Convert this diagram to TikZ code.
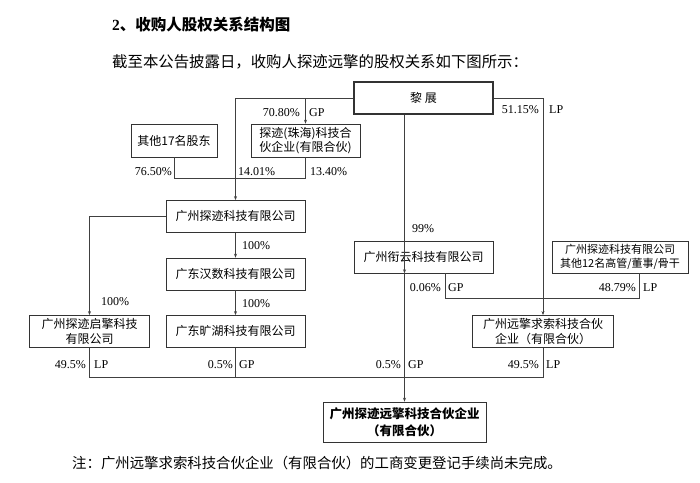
\documentclass[tikz,border=0pt]{standalone}
\usepackage{fontspec}
\setmainfont{Liberation Serif}
\newfontfamily\cjk{Noto Sans CJK SC}
\usetikzlibrary{arrows.meta, positioning, calc}

\begin{document}
\begin{tikzpicture}[x=1pt, y=-1pt,
    box/.style={draw=black!80, line width=0.6pt, minimum width=139pt, minimum height=32pt, align=center, inner sep=1pt, font=\cjk\fontsize{12}{14.5}\selectfont},
    pct/.style={inner sep=0pt, font=\fontsize{12}{12}\selectfont},
    link/.style={draw=black!75, line width=0.6pt},
    arr/.style={link, -{Stealth[length=4pt, width=3pt]}}]
    \useasboundingbox (0,0) rectangle (700,482);

    \node[anchor=west, inner sep=0pt, font=\fontsize{15.5}{15.5}\selectfont] (title) at (112,25) {\textbf{2}{\cjk\bfseries 、收购人股权关系结构图}};
    \node[anchor=west, inner sep=0pt, font=\cjk\fontsize{15.4}{15.4}\selectfont] (intro) at (112,62) {截至本公告披露日，收购人探迹远擎的股权关系如下图所示：};

    % boxes
    \node[box, line width=1.4pt] (lizhan) at (423.5,98) {黎\ 展};
    \node[box, minimum width=86pt, minimum height=33pt] (other17) at (174,140.5) {其他17名股东};
    \node[box, minimum width=109pt, minimum height=33pt] (zhuhai) at (305.5,140.5) {探迹(珠海)科技合\\伙企业(有限合伙)};
    \node[box] (tanji) at (235.5,216.4) {广州探迹科技有限公司};
    \node[box] (hanshu) at (235.5,274) {广东汉数科技有限公司};
    \node[box] (kuanghu) at (235.5,331.4) {广东旷湖科技有限公司};
    \node[box, minimum width=120pt] (qiqing) at (89.5,331.4) {广州探迹启擎科技\\有限公司};
    \node[box] (xianyun) at (423.5,257) {广州衔云科技有限公司};
    \node[box, minimum width=136pt, font=\cjk\fontsize{11}{14}\selectfont] (staff) at (620,257) {广州探迹科技有限公司\\其他12名高管/董事/骨干};
    \node[box, minimum width=141pt] (qiusuo) at (543,331.4) {广州远擎求索科技合伙\\企业（有限合伙）};
    \node[box, minimum width=163pt, minimum height=40pt, font=\cjk\bfseries\fontsize{12.5}{17}\selectfont] (target) at (404.5,422) {广州探迹远擎科技合伙企业\\（有限合伙）};

    % connectors
    \draw[arr] (lizhan.west) -| (tanji.north);
    \draw[arr] (lizhan.west -| zhuhai.north) -- (zhuhai.north);
    \draw[arr] (lizhan.east) -| (qiusuo.north);
    \draw[arr] (lizhan.south -| target.north) -- (xianyun.south -| target.north |- xianyun.north);
    \draw[arr] (xianyun.south -| target.north) -- (target.north);
    \draw[link] (other17.south) |- ($(zhuhai.south)+(0,21)$) -- (zhuhai.south);
    \draw[arr] (tanji.west) -| (qiqing.north);
    \draw[arr] (tanji.south) -- (hanshu.north);
    \draw[arr] (hanshu.south) -- (kuanghu.north);
    \draw[link] ($(xianyun.south)+(21.5,0)$) |- ($(staff.south)+(19,24.7)$) -- ($(staff.south)+(19,0)$);
    \coordinate (bar) at (0,377);
    \draw[link] (qiqing.south) |- (qiusuo.south |- bar) -- (qiusuo.south);
    \draw[link] (kuanghu.south) -- (kuanghu.south |- bar);

    % shares
    \node[pct, anchor=east] (p7080) at (300,113) {70.80\%};
    \node[pct, anchor=west] (gp1) at (309,113) {GP};
    \node[pct, anchor=east] (p5115) at (539,110) {51.15\%};
    \node[pct, anchor=west] (lp1) at (549,110) {LP};
    \node[pct, anchor=west] (p99) at (412,229) {99\%};
    \node[pct, anchor=east] (p7650) at (172,172) {76.50\%};
    \node[pct, anchor=west] (p1401) at (238,172) {14.01\%};
    \node[pct, anchor=west] (p1340) at (310,172) {13.40\%};
    \node[pct, anchor=west] (p100a) at (242,246) {100\%};
    \node[pct, anchor=west] (p100b) at (242,304) {100\%};
    \node[pct, anchor=west] (p100c) at (101,302) {100\%};
    \node[pct, anchor=east] (p006) at (441,288) {0.06\%};
    \node[pct, anchor=west] (gp2) at (448,288) {GP};
    \node[pct, anchor=east] (p4879) at (636,288) {48.79\%};
    \node[pct, anchor=west] (lp2) at (643,288) {LP};
    \node[pct, anchor=east] (p495a) at (86,365) {49.5\%};
    \node[pct, anchor=west] (lp3) at (94,365) {LP};
    \node[pct, anchor=east] (p05a) at (233,365) {0.5\%};
    \node[pct, anchor=west] (gp3) at (239,365) {GP};
    \node[pct, anchor=east] (p05b) at (401,365) {0.5\%};
    \node[pct, anchor=west] (gp4) at (408,365) {GP};
    \node[pct, anchor=east] (p495b) at (539,365) {49.5\%};
    \node[pct, anchor=west] (lp4) at (546,365) {LP};

    \node[anchor=west, inner sep=0pt, font=\cjk\fontsize{14.4}{14.4}\selectfont] (note) at (72,463) {注：广州远擎求索科技合伙企业（有限合伙）的工商变更登记手续尚未完成。};
\end{tikzpicture}
\end{document}
